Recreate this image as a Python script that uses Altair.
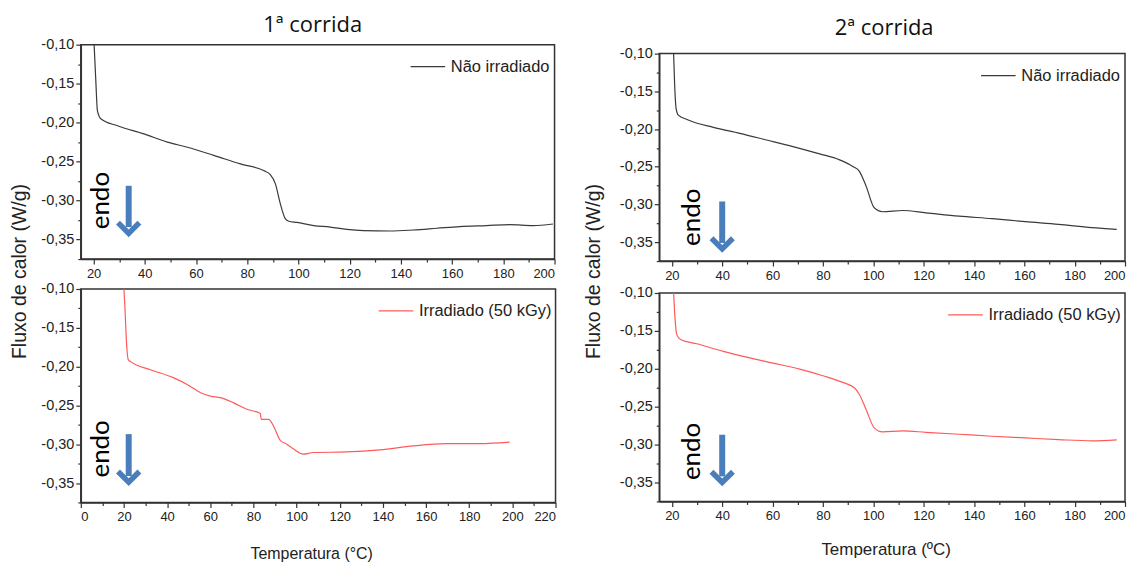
import altair as alt
import pandas as pd

# ---------------- data ----------------
# 1ª corrida – Não irradiado
r1n_T = [20.2, 20.8, 21.5, 22.8, 29.3, 39.7, 48.8, 56.6, 66.9, 77.3, 86.4, 89.0, 91.0, 92.9,
         94.9, 96.2, 99.4, 105.9, 112.4, 118.9, 125.4, 135.8, 144.8, 154.0, 163.0, 173.4,
         182.5, 191.6, 199.4]
r1n_F = [-0.100, -0.142, -0.185, -0.195, -0.204, -0.2145, -0.225, -0.2316, -0.242, -0.253,
         -0.2615, -0.2667, -0.2786, -0.304, -0.3235, -0.3265, -0.328, -0.332, -0.334, -0.337,
         -0.3385, -0.339, -0.3377, -0.3355, -0.3333, -0.332, -0.3308, -0.332, -0.330]

# 1ª corrida – Irradiado (50 kGy)
r1i_T = [20.0, 20.5, 21.1, 22.0, 23.1, 32.3, 43.1, 49.3, 55.5, 60.1, 64.7, 70.8, 77.0, 83.2,
         83.6, 87.0, 89.3, 92.4, 95.5, 98.5, 103.2, 107.8, 123.2, 138.6, 154.0, 169.4, 184.8,
         198.7]
r1i_F = [-0.100, -0.127, -0.165, -0.191, -0.1936, -0.204, -0.2145, -0.223, -0.2337, -0.238,
         -0.240, -0.2467, -0.255, -0.2603, -0.268, -0.268, -0.2765, -0.2950, -0.300, -0.306,
         -0.3128, -0.3107, -0.310, -0.3074, -0.3022, -0.2993, -0.2993, -0.2974]

# 2ª corrida – Não irradiado
r2n_T = [20.7, 21.1, 21.7, 22.6, 26.0, 36.5, 47.0, 57.6, 68.1, 78.7, 86.6, 91.9, 94.5, 97.2,
         100.4, 103.7, 111.7, 120.9, 134.1, 147.2, 160.4, 173.6, 186.8, 196.7]
r2n_F = [-0.100, -0.140, -0.1728, -0.1816, -0.1873, -0.1978, -0.2057, -0.2145, -0.2233,
         -0.2329, -0.2408, -0.2496, -0.256, -0.276, -0.3044, -0.3096, -0.308, -0.311, -0.3154,
         -0.3188, -0.3228, -0.3263, -0.3307, -0.333]

# 2ª corrida – Irradiado (50 kGy)
r2i_T = [20.7, 21.3, 22.0, 23.3, 29.9, 40.4, 49.7, 60.2, 70.8, 80.0, 87.9, 92.6, 94.5, 97.2,
         100.4, 103.7, 111.7, 120.9, 134.1, 147.2, 160.4, 173.6, 186.8, 196.7]
r2i_F = [-0.100, -0.1355, -0.1553, -0.161, -0.167, -0.177, -0.1847, -0.1925, -0.2004,
         -0.2092, -0.218, -0.2254, -0.234, -0.254, -0.278, -0.2833, -0.282, -0.2838, -0.2864,
         -0.289, -0.2912, -0.2934, -0.295, -0.2937]

titles = ["1ª corrida", "2ª corrida"]
labels = ["Não irradiado", "Irradiado (50 kGy)"]
colors = ["#3a3a3a", "#ff5a5a"]
y_ticks = [round(-0.375 + 0.025 * i, 3) for i in range(12)]
x_ticks_a = list(range(20, 201, 10))
x_ticks_b = list(range(0, 221, 10))

BLUE = "#4a7ebb"
FONT = "Liberation Sans"

Y_LABEL = ("abs(round(datum.value*1000)) % 50 == 0 ? "
           "replace(replace(format(datum.value, '.2f'), '.', ','), '\u2212', '-') : ''")
Y_MAJOR = "abs(round(datum.value*1000)) % 50 == 0"
X_MAJOR = "datum.value % 20 == 0"

common_axis = dict(domainColor="#333", domainWidth=1.5, tickColor="#333", tickWidth=1.2,
                   labelFont=FONT, labelColor="#222", grid=False,
                   titleFont=FONT, titleFontWeight="normal", titleColor="#222")


def panel(T, F, label, color, xdom, xticks, width, height, endo, arrow,
          title="", title_offset=10, title_dx=0, ytitle="", ytitle_x=-60, ytitle_y=0,
          xtitle="", xtitle_x=0, xtitle_y=50, xtitle_size=15):
    xaxis = alt.Axis(values=xticks, labelExpr="%s ? datum.label : ''" % X_MAJOR,
                     tickSize={"condition": {"test": X_MAJOR, "value": 5}, "value": 3},
                     labelPadding=3, labelFontSize=13, title=xtitle, titleX=xtitle_x,
                     titleY=xtitle_y, titleAlign="center",
                     titleFontSize=xtitle_size, titleBaseline="middle", **common_axis)
    yaxis = alt.Axis(values=y_ticks, labelExpr=Y_LABEL,
                     tickSize={"condition": {"test": Y_MAJOR, "value": 5}, "value": 3},
                     labelPadding=2, labelFontSize=14.5, title=ytitle, titleX=ytitle_x,
                     titleY=ytitle_y, titleFontSize=19.5, titleAngle=270,
                     titleBaseline="middle", titleAlign="center", **common_axis)
    xs = alt.Scale(domain=xdom, nice=False, zero=False)
    ys = alt.Scale(domain=[-0.375, -0.1], nice=False, zero=False)
    X = alt.X("T:Q", scale=xs, axis=xaxis)
    Y = alt.Y("F:Q", scale=ys, axis=yaxis)

    df = pd.DataFrame({"T": T, "F": F, "S": [label] * len(T)})
    line = alt.Chart(df).mark_line(strokeWidth=1.2, interpolate="monotone").encode(
        x=X, y=Y,
        color=alt.Color("S:N", scale=alt.Scale(domain=[label], range=[color]),
                        legend=alt.Legend(orient="top-right", title="", symbolType="stroke",
                                          symbolSize=1200, symbolStrokeWidth=1.2,
                                          labelFont=FONT, labelFontSize=16.5,
                                          labelColor="#222", labelOffset=5, offset=4,
                                          padding=0)))

    endo_df = pd.DataFrame({"T": [endo[0]], "F": [endo[1]]})
    endo_txt = alt.Chart(endo_df).mark_text(text="endo", angle=270, fontSize=26, font="Lato",
                                            color="black", align="center",
                                            baseline="middle").encode(x=X, y=Y)

    shaft_df = pd.DataFrame({"T": [arrow[0]], "F": [arrow[1]], "F2": [arrow[2] + 0.008]})
    shaft = alt.Chart(shaft_df).mark_rule(color=BLUE, strokeWidth=6).encode(
        x=X, y=Y, y2="F2:Q")
    head_df = pd.DataFrame({"T": [arrow[0]], "F": [arrow[2]]})
    head = alt.Chart(head_df).mark_point(shape="M-1,-1L0,0L1,-1", filled=False, size=460,
                                         strokeWidth=5.5, color=BLUE, opacity=1).encode(x=X, y=Y)

    ch = alt.layer(line, endo_txt, shaft, head).properties(width=width, height=height)
    if title:
        ch = ch.properties(title=alt.TitleParams(text=title, fontSize=22, font="Open Sans",
                                                 fontWeight="normal", color="#111",
                                                 offset=title_offset, anchor="middle",
                                                 frame="group", dx=title_dx))
    return ch


left_top = panel(r1n_T, r1n_F, labels[0], colors[0], [15, 200], x_ticks_a, 475, 215,
                 endo=(22.8, -0.300), arrow=(33.7, -0.281, -0.342),
                 title=titles[0], title_offset=0, title_dx=-5,
                 ytitle="Fluxo de calor (W/g)", ytitle_x=-61, ytitle_y=227)
left_bot = panel(r1i_T, r1i_F, labels[1], colors[1], [0, 220], x_ticks_b, 476, 214,
                 endo=(9.2, -0.306), arrow=(22.2, -0.287, -0.349),
                 xtitle="Temperatura (°C)", xtitle_x=231, xtitle_y=51, xtitle_size=16)
right_top = panel(r2n_T, r2n_F, labels[0], colors[0], [15, 200], x_ticks_a, 467, 208,
                  endo=(28.1, -0.317), arrow=(40, -0.296, -0.359),
                  title=titles[1], title_offset=6, title_dx=-8,
                  ytitle="Fluxo de calor (W/g)", ytitle_x=-66, ytitle_y=218)
right_bot = panel(r2i_T, r2i_F, labels[1], colors[1], [15, 200], x_ticks_a, 467, 209,
                  endo=(28.1, -0.309), arrow=(40, -0.287, -0.350),
                  xtitle="Temperatura (ºC)", xtitle_x=227, xtitle_y=48, xtitle_size=17)

# invisible spacer that lowers the right column a little, as in the reference
spacer = alt.Chart(pd.DataFrame({"T": [0]})).mark_point(opacity=0).encode(
    x=alt.X("T:Q", axis=None)).properties(
    width=467, height=1, view=alt.ViewBackground(stroke="transparent"))

left = alt.vconcat(left_top, left_bot, spacing=30, bounds="flush").resolve_scale(
    color="independent", x="independent", y="independent")
right_inner = alt.vconcat(right_top, right_bot, spacing=32, bounds="flush").resolve_scale(
    color="independent", x="independent", y="independent")
right = alt.vconcat(spacer, right_inner, spacing=8, bounds="flush").resolve_scale(
    color="independent", x="independent", y="independent")

chart = alt.hconcat(left, right, spacing=25).resolve_scale(
    color="independent", x="independent", y="independent").properties(
    padding={"left": 1, "top": 4, "right": 2, "bottom": 0}
).configure_view(stroke="#333", strokeWidth=1.5)

chart.save("out.html", embed_options={"renderer": "svg", "actions": False})
